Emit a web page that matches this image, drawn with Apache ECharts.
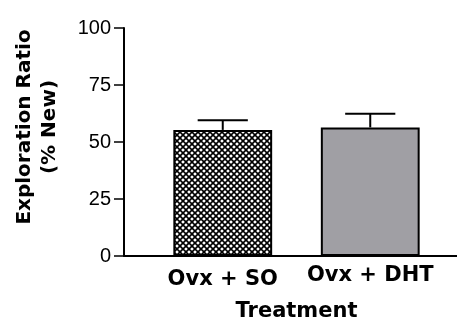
<!DOCTYPE html>
<html>
<head>
<meta charset="utf-8">
<script src="https://cdn.jsdelivr.net/npm/echarts@6/dist/echarts.min.js"></script>
<style>
  html, body { margin: 0; padding: 0; background: #fff; }
  #chart { width: 457px; height: 320px; }
</style>
</head>
<body>
<div id="chart"></div>
<script>
const categories = ['Ovx + SO', 'Ovx + DHT']
const means = [55.3, 56.4]
const sem = [4.2, 6.0]
const yTicks = [0, 25, 50, 75, 100]

// crosshatch tile for the first bar
const makeHatch = () => {
  const c = document.createElement('canvas')
  c.width = 6
  c.height = 6
  const ctx = c.getContext('2d')
  ctx.fillStyle = '#fff'
  ctx.fillRect(0, 0, 6, 6)
  ctx.strokeStyle = '#000'
  ctx.lineWidth = 1.6
  ctx.beginPath()
  ctx.moveTo(-1, -1); ctx.lineTo(7, 7)
  ctx.moveTo(7, -1); ctx.lineTo(-1, 7)
  ctx.stroke()
  return c
}

const fills = [
  { image: makeHatch(), repeat: 'repeat' },
  '#a09fa4'
]

const chart = echarts.init(document.getElementById('chart'), null, { renderer: 'canvas' })

const boldFont = 'DejaVu Sans'
const axisColor = '#000'

chart.setOption({
  animation: false,
  backgroundColor: '#fff',
  grid: [
    { left: 124, right: 0, top: 28, bottom: 64, outerBoundsMode: 'none' },
    { left: 149, right: 13, top: 28, bottom: 64, outerBoundsMode: 'none' }
  ],
  xAxis: [
    {
      type: 'category',
      gridIndex: 0,
      data: categories,
      axisLine: { lineStyle: { color: axisColor, width: 2 } },
      axisTick: { show: false },
      axisLabel: { show: false }
    },
    {
      type: 'category',
      gridIndex: 1,
      data: categories,
      axisLine: { show: false },
      axisTick: { show: false },
      axisLabel: {
        margin: 9,
        color: '#000',
        formatter: (v, i) => (i === 0 ? '{lo|' + v + '}' : '{hi|' + v + '}'),
        rich: {
          lo: { fontFamily: boldFont, fontWeight: 'bold', fontSize: 21, color: '#000', padding: [4, 0, 0, 0] },
          hi: { fontFamily: boldFont, fontWeight: 'bold', fontSize: 21, color: '#000' }
        }
      },
      name: 'Treatment',
      nameLocation: 'middle',
      nameGap: 45,
      nameTextStyle: { fontFamily: boldFont, fontWeight: 'bold', fontSize: 21, color: '#000' }
    }
  ],
  yAxis: [
    {
      type: 'value',
      gridIndex: 0,
      min: yTicks[0],
      max: yTicks[yTicks.length - 1],
      interval: 25,
      splitLine: { show: false },
      axisLine: { show: true, lineStyle: { color: axisColor, width: 2 } },
      axisTick: { show: true, length: 10, lineStyle: { color: axisColor, width: 1.5 } },
      axisLabel: {
        margin: 13,
        fontFamily: 'Liberation Sans',
        fontSize: 20,
        color: '#000'
      },
      name: 'Exploration Ratio\n(% New)',
      nameLocation: 'middle',
      nameGap: 62,
      nameTextStyle: {
        fontFamily: boldFont,
        fontWeight: 'bold',
        fontSize: 20,
        lineHeight: 25,
        color: '#000',
        padding: [0, 0, 0, 30]
      }
    },
    {
      type: 'value',
      gridIndex: 1,
      min: yTicks[0],
      max: yTicks[yTicks.length - 1],
      show: false
    }
  ],
  series: [
    {
      type: 'bar',
      xAxisIndex: 1,
      yAxisIndex: 1,
      barWidth: '67%',
      data: means.map((v, i) => ({
        value: v,
        itemStyle: { color: fills[i], borderColor: '#000', borderWidth: 2 }
      })),
      z: 2
    },
    {
      type: 'custom',
      xAxisIndex: 1,
      yAxisIndex: 1,
      data: means.map((v, i) => [i, v, v + sem[i]]),
      renderItem: (params, api) => {
        const p0 = api.coord([api.value(0), api.value(1)])
        const p1 = api.coord([api.value(0), api.value(2)])
        const half = api.size([1, 0])[0] * 0.17
        const style = { stroke: '#000', lineWidth: 2 }
        return {
          type: 'group',
          children: [
            { type: 'line', shape: { x1: p0[0], y1: p0[1], x2: p1[0], y2: p1[1] }, style },
            { type: 'line', shape: { x1: p1[0] - half, y1: p1[1], x2: p1[0] + half, y2: p1[1] }, style }
          ]
        }
      },
      z: 3
    }
  ]
})
</script>
</body>
</html>
